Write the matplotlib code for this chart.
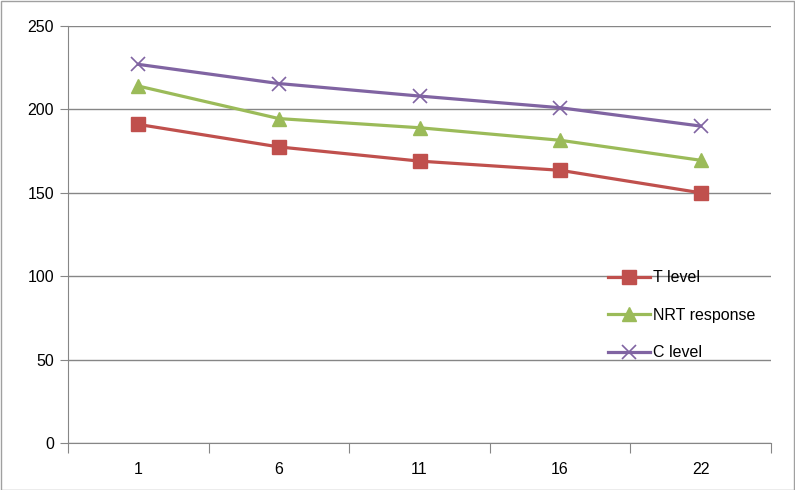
import matplotlib
matplotlib.use("Agg")
import matplotlib.pyplot as plt
from matplotlib.patches import Rectangle

plt.rcParams['font.family'] = ['Liberation Sans', 'DejaVu Sans']

categories = ["1", "6", "11", "16", "22"]
t_level = [191, 177.5, 169, 163.5, 150]
nrt_response = [214, 194.5, 189, 181.5, 169.5]
c_level = [227, 215.5, 208, 201, 190]

GRID = "#868686"
fig = plt.figure(figsize=(7.95, 4.9), dpi=100)
ax = fig.add_axes([68 / 795, 1 - 443 / 490, 703 / 795, 417 / 490])

x = [i + 0.5 for i in range(len(categories))]
ax.plot(x, t_level, color="#C0504D", lw=2.3, marker="s", ms=10, label="T level")
ax.plot(x, nrt_response, color="#9BBB59", lw=2.3, marker="^", ms=10, label="NRT response")
ax.plot(x, c_level, color="#8064A2", lw=2.3, marker="x", ms=10, mew=1.2, label="C level")

ax.set_xlim(0, 5); ax.set_ylim(0, 250)
ax.set_yticks(range(0, 251, 50))
ax.set_xticks(range(6), minor=False)
ax.set_xticklabels([])
ax.set_xticks(x, minor=True)
ax.set_xticklabels(categories, minor=True)
ax.tick_params(axis="x", which="minor", length=0, pad=14, labelsize=11.5)
ax.tick_params(axis="x", which="major", length=7, color=GRID)
ax.tick_params(axis="y", length=6, color=GRID, labelsize=11.5, pad=4)
ax.grid(axis="y", color=GRID, lw=1)
ax.set_axisbelow(True)
for s in ["top", "right"]:
    ax.spines[s].set_visible(False)
for s in ["left", "bottom"]:
    ax.spines[s].set_color(GRID)

ax.legend(loc="upper left", bbox_to_anchor=(594 / 795, 1 - 256 / 490), bbox_transform=fig.transFigure,
          frameon=False, fontsize=11.5, handlelength=2.6, labelspacing=1.4, handletextpad=0.2)

fig.patches.append(Rectangle((0.5 / 795, 0.5 / 490), 1 - 1.5 / 795, 1 - 1.5 / 490, transform=fig.transFigure,
                             fill=False, edgecolor="#A0A0A0", lw=1))
fig.savefig("out.png", dpi=100)
